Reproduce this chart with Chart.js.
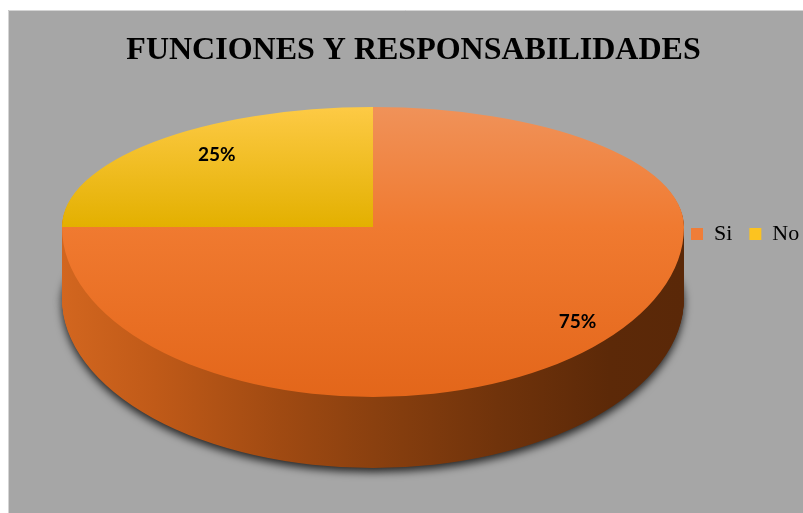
<!DOCTYPE html>
<html><head><meta charset="utf-8">
<script src="https://cdn.jsdelivr.net/npm/chart.js@4.4.1/dist/chart.umd.min.js"></script>
<style>html,body{margin:0;padding:0;background:#fff;}#wrap{width:803px;height:513px;}</style>
</head><body><div id="wrap"><canvas id="c" width="803" height="513"></canvas></div>
<script>
const titleText = 'FUNCIONES Y RESPONSABILIDADES';
const categories = ['Si', 'No'];
const values = [75, 25];
const valueLabels = ['75%', '25%'];
const swatchColors = ['#ef7d38', '#fcc320'];

// geometry of the 3D projection (screen pixels)
const GEO = {cx: 373, apexY: 227, rx: 311, ryTop: 120, ryBot: 170, depth: 71};
const LABEL_FRAC = [{fx: 0.93, fy: 0.79}, {fx: 0.71, fy: 0.85}];

function cloneArc(arc, fill) {
  const c = Object.assign(Object.create(Object.getPrototypeOf(arc)), arc);
  c.options = Object.assign({}, arc.options, {backgroundColor: fill, borderWidth: 0, offset: 0, spacing: 0});
  return c;
}

function drawPart(ctx, arc, fill, upper, dy, R, ax, ay, W, H) {
  ctx.save();
  ctx.beginPath();
  if (upper) ctx.rect(0, 0, W, GEO.apexY + dy);
  else ctx.rect(0, GEO.apexY + dy, W, H);
  ctx.clip();
  ctx.translate(GEO.cx, GEO.apexY + dy);
  ctx.scale(GEO.rx / R, (upper ? GEO.ryTop : GEO.ryBot) / R);
  ctx.translate(-ax, -ay);
  cloneArc(arc, fill).draw(ctx);
  ctx.restore();
}

const bgPlugin = {
  id: 'bg',
  beforeDraw(chart) {
    const ctx = chart.ctx;
    ctx.save();
    ctx.fillStyle = '#ffffff';
    ctx.fillRect(0, 0, chart.width, chart.height);
    ctx.fillStyle = '#a6a6a6';
    ctx.fillRect(8, 10, chart.width - 8, chart.height - 10);
    ctx.strokeStyle = '#d4d4d4';
    ctx.lineWidth = 1;
    ctx.beginPath();
    ctx.moveTo(8.5, chart.height); ctx.lineTo(8.5, 10.5); ctx.lineTo(chart.width, 10.5);
    ctx.stroke();
    ctx.restore();
  }
};

const pie3d = {
  id: 'pie3d',
  afterLayout(chart) {
    const lg = chart.legend;
    if (!lg) return;
    const w = lg.width, h = lg.height;
    lg.left = 674; lg.right = 674 + w; lg.top = 206; lg.bottom = 206 + h;
  },
  beforeDatasetsDraw(chart) {
    const ctx = chart.ctx;
    const W = chart.width, H = chart.height;
    const arcs = chart.getDatasetMeta(0).data;
    if (!arcs.length) return false;
    const R = arcs[0].outerRadius, ax = arcs[0].x, ay = arcs[0].y;

    // side gradient (horizontal)
    const side = ctx.createLinearGradient(ax - R, 0, ax + R, 0);
    side.addColorStop(0, '#d2661f');
    side.addColorStop(0.15, '#c05a18');
    side.addColorStop(0.35, '#a04a12');
    side.addColorStop(0.5, '#8a400f');
    side.addColorStop(0.7, '#70330b');
    side.addColorStop(0.88, '#5c2908');
    side.addColorStop(1, '#5a2808');

    for (let d = GEO.depth; d >= 1; d--) {
      ctx.save();
      if (d === GEO.depth) {
        ctx.shadowColor = 'rgba(20,20,20,0.9)';
        ctx.shadowBlur = 8;
        ctx.shadowOffsetY = 4;
      }
      arcs.forEach(a => {
        drawPart(ctx, a, side, true, d, R, ax, ay, W, H);
        drawPart(ctx, a, side, false, d, R, ax, ay, W, H);
      });
      ctx.restore();
    }

    // top face gradients
    const faceUp = [
      ['#f09259', '#f07a30'],
      ['#fdca45', '#e3b000']
    ];
    const faceDown = [
      ['#f07a30', '#e3661a'],
      ['#e3b000', '#d8a400']
    ];
    arcs.forEach((a, i) => {
      const gu = ctx.createLinearGradient(0, ay - R, 0, ay);
      gu.addColorStop(0, faceUp[i][0]); gu.addColorStop(1, faceUp[i][1]);
      const gd = ctx.createLinearGradient(0, ay, 0, ay + R);
      gd.addColorStop(0, faceDown[i][0]); gd.addColorStop(1, faceDown[i][1]);
      drawPart(ctx, a, gu, true, 0, R, ax, ay, W, H);
      drawPart(ctx, a, gd, false, 0, R, ax, ay, W, H);
    });

    // value labels
    ctx.save();
    ctx.font = 'bold 19px Lato';
    ctx.fillStyle = '#000';
    ctx.textAlign = 'center';
    ctx.textBaseline = 'middle';
    arcs.forEach((a, i) => {
      const mid = (a.startAngle + a.endAngle) / 2;
      const ex = Math.cos(mid) * LABEL_FRAC[i].fx;
      const ey = Math.sin(mid) * LABEL_FRAC[i].fy;
      const sx = GEO.cx + ex * GEO.rx;
      const sy = GEO.apexY + ey * (ey < 0 ? GEO.ryTop : GEO.ryBot);
      ctx.fillText(valueLabels[i], sx, sy);
    });
    ctx.restore();
    return false;
  }
};

new Chart(document.getElementById('c'), {
  type: 'pie',
  data: {
    labels: categories,
    datasets: [{data: values, backgroundColor: swatchColors, borderWidth: 0}]
  },
  options: {
    responsive: false,
    devicePixelRatio: 1,
    animation: false,
    events: [],
    layout: {padding: {left: 24, top: 22}},
    plugins: {
      title: {
        display: true,
        text: titleText,
        color: '#000',
        font: {family: 'Liberation Serif', size: 32, weight: 'bold'},
        padding: {top: 10, bottom: 10}
      },
      legend: {
        position: 'bottom',
        align: 'start',
        labels: {
          color: '#000',
          font: {family: 'Liberation Serif', size: 22},
          boxWidth: 12,
          boxHeight: 12,
          padding: 17
        }
      },
      tooltip: {enabled: false}
    }
  },
  plugins: [bgPlugin, pie3d]
});
</script>
</body></html>
